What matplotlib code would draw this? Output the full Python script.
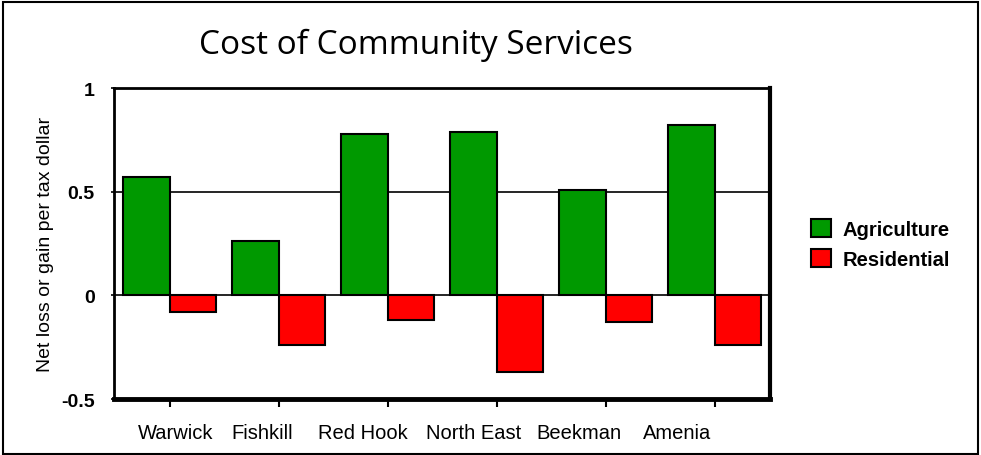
import matplotlib
matplotlib.use("Agg")
import matplotlib.pyplot as plt
from matplotlib.patches import Rectangle, Patch
import numpy as np

towns = ["Warwick", "Fishkill", "Red Hook", "North East", "Beekman", "Amenia"]
agriculture = [0.57, 0.26, 0.78, 0.79, 0.51, 0.82]
residential = [-0.08, -0.24, -0.12, -0.37, -0.13, -0.24]
# the category names sit a little left of their ticks in the original
label_pos = [0.06, 0.85, 1.77, 2.79, 3.76, 4.66]
yticks = [-0.5, 0, 0.5, 1]
ytick_labels = ["-0.5", "0", "0.5", "1"]

GREEN = "#009900"
RED = "#ff0000"

fig = plt.figure(figsize=(9.81, 4.56), dpi=100)
fig.patch.set_facecolor("white")
# outer frame of the figure
fig.patches.append(Rectangle((0.003, 0.002), 0.994, 0.991, transform=fig.transFigure,
                             fill=False, edgecolor="black", linewidth=1.5))

ax = fig.add_axes([0.1162, 0.1228, 0.6688, 0.682])

x = np.arange(len(towns))
w = 0.425
ax.axhline(0.5, color="black", linewidth=1.2, zorder=1)
ax.axhline(0, color="black", linewidth=1.2, zorder=1)
ax.bar(x - w / 2, agriculture, width=w, color=GREEN, edgecolor="black", linewidth=1.5, zorder=2)
ax.bar(x + w / 2, residential, width=w, color=RED, edgecolor="black", linewidth=1.5, zorder=2)

ax.set_xlim(-0.51, len(towns) - 0.49)
ax.set_ylim(-0.5, 1)
ax.set_yticks(yticks)
ax.set_yticklabels(ytick_labels, fontsize=14, fontweight="bold", family="Liberation Sans")
ax.tick_params(axis="y", length=2, width=1.2, pad=12)

# tick marks at the group centres, names on unmarked minor ticks
ax.set_xticks(x)
ax.set_xticklabels([])
ax.tick_params(axis="x", which="major", length=6, width=1.5)
ax.set_xticks(label_pos, minor=True)
ax.set_xticklabels(towns, minor=True, fontsize=14.5, family="Liberation Sans")
ax.tick_params(axis="x", which="minor", length=0, pad=17)

ax.spines["left"].set_linewidth(2)
ax.spines["top"].set_linewidth(2)
ax.spines["right"].set_linewidth(3)
ax.spines["bottom"].set_linewidth(3.5)

ax.set_ylabel("Net loss or gain per tax dollar", fontsize=14, family="Liberation Sans", labelpad=5)

fig.text(0.424, 0.9, "Cost of Community Services", fontsize=24, family="Open Sans",
         ha="center", va="center")

handles = [Patch(facecolor=GREEN, edgecolor="black", linewidth=1.5),
           Patch(facecolor=RED, edgecolor="black", linewidth=1.5)]
fig.legend(handles, ["Agriculture", "Residential"], loc="center left",
           bbox_to_anchor=(0.816, 0.463), frameon=False,
           prop={"family": "Liberation Sans", "weight": "bold", "size": 14.5},
           handlelength=1.0, handleheight=1.0, handletextpad=0.6, labelspacing=0.5,
           borderpad=0)

fig.savefig("out.png", dpi=100)
